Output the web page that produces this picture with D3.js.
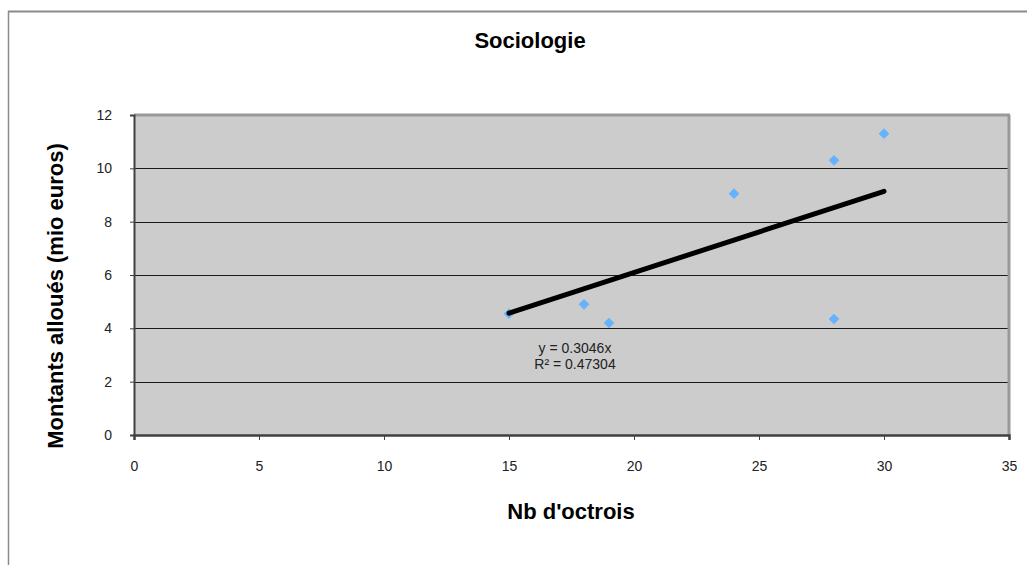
<!DOCTYPE html>
<html><head><meta charset="utf-8">
<script src="https://cdn.jsdelivr.net/npm/d3@7"></script>
<style>body{margin:0;background:#fff}svg{display:block;font-family:"Liberation Sans",Arial,sans-serif}</style>
</head><body>
<script>
const xValues = [15, 18, 19, 24, 28, 28, 30];
const yValues = [4.55, 4.9, 4.2, 9.05, 10.3, 4.35, 11.3];
const xTicks = [0, 5, 10, 15, 20, 25, 30, 35];
const yTicks = [0, 2, 4, 6, 8, 10, 12];
const slope = 0.3046;
const trendRange = [15, 30];
const equationLines = ["y = 0.3046x", "R² = 0.47304"];
const title = "Sociologie";
const xTitle = "Nb d'octrois";
const yTitle = "Montants alloués (mio euros)";

const W = 1027, H = 565;
const svg = d3.select("body").append("svg").attr("width", W).attr("height", H);

// outer frame lines
svg.append("line").attr("x1", 8).attr("x2", W).attr("y1", 11.5).attr("y2", 11.5).attr("stroke", "#8a8a8a").attr("stroke-width", 2);
svg.append("line").attr("x1", 8.5).attr("x2", 8.5).attr("y1", 11).attr("y2", H).attr("stroke", "#8a8a8a").attr("stroke-width", 1.5);

const x = d3.scaleLinear().domain([0, 35]).range([134, 1009]);
const y = d3.scaleLinear().domain([0, 12]).range([435, 115]);

// plot background
svg.append("rect").attr("x", x(0)).attr("y", y(12)).attr("width", x(35) - x(0)).attr("height", y(0) - y(12)).attr("fill", "#cccccc");

// grid lines
svg.append("g").selectAll("line").data(yTicks.filter(d => d > 0 && d < 12)).join("line")
  .attr("x1", x(0)).attr("x2", x(35)).attr("y1", d => Math.round(y(d)) + 0.5).attr("y2", d => Math.round(y(d)) + 0.5)
  .attr("stroke", "#1a1a1a").attr("stroke-width", 1);

// top & right border
svg.append("line").attr("x1", x(0)).attr("x2", x(35) + 1).attr("y1", y(12)).attr("y2", y(12)).attr("stroke", "#999").attr("stroke-width", 3);
svg.append("line").attr("x1", x(35)).attr("x2", x(35)).attr("y1", y(12)).attr("y2", y(0)).attr("stroke", "#999").attr("stroke-width", 3);

// axes
const yAxis = svg.append("g").attr("transform", `translate(${x(0)},0)`)
  .call(d3.axisLeft(y).tickValues(yTicks).tickSize(4).tickPadding(18));
yAxis.select(".domain").attr("stroke", "#404040").attr("stroke-width", 2);
yAxis.selectAll(".tick line").attr("stroke", "#404040");
yAxis.selectAll("text").attr("font-size", 14).attr("fill", "#222").attr("font-family", "Liberation Sans, Arial, sans-serif");

const xAxis = svg.append("g").attr("transform", `translate(0,${y(0)})`)
  .call(d3.axisBottom(x).tickValues(xTicks).tickSize(5).tickPadding(21));
xAxis.select(".domain").attr("stroke", "#404040").attr("stroke-width", 2.5);
xAxis.selectAll(".tick line").attr("stroke", "#404040");
xAxis.selectAll("text").attr("font-size", 14).attr("fill", "#222").attr("font-family", "Liberation Sans, Arial, sans-serif");

// points
const pts = xValues.map((v, i) => ({x: v, y: yValues[i]}));
svg.append("g").selectAll("path").data(pts).join("path")
  .attr("d", d3.symbol(d3.symbolDiamond2, 72))
  .attr("transform", d => `translate(${x(d.x)},${y(d.y)})`)
  .attr("fill", "#66b3fd");

// trendline
svg.append("line")
  .attr("x1", x(trendRange[0])).attr("y1", y(slope * trendRange[0]))
  .attr("x2", x(trendRange[1])).attr("y2", y(slope * trendRange[1]))
  .attr("stroke", "#000").attr("stroke-width", 5).attr("stroke-linecap", "round");

// equation
svg.append("g").selectAll("text").data(equationLines).join("text")
  .attr("x", 575).attr("y", (d, i) => 353 + i * 16)
  .attr("text-anchor", "middle").attr("font-size", 14).attr("fill", "#222").text(d => d);

// titles
svg.append("text").attr("x", 530).attr("y", 48).attr("text-anchor", "middle")
  .attr("font-size", 22).attr("font-weight", "bold").text(title);
svg.append("text").attr("x", 571).attr("y", 519).attr("text-anchor", "middle")
  .attr("font-size", 22).attr("font-weight", "bold").text(xTitle);
svg.append("text").attr("transform", "translate(63,296) rotate(-90)").attr("text-anchor", "middle")
  .attr("font-size", 22).attr("font-weight", "bold").text(yTitle);
</script>
</body></html>
